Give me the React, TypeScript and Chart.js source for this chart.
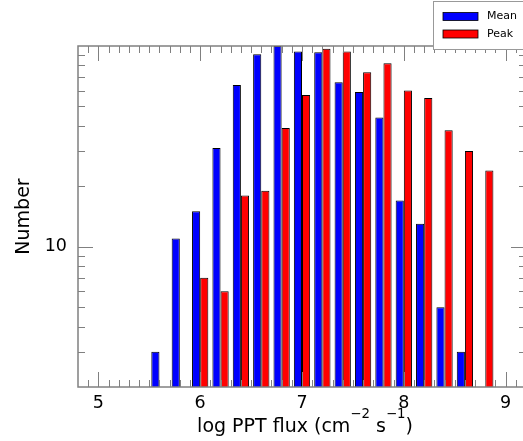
import { useEffect, useRef } from 'react';
import { Chart, registerables } from 'chart.js';

Chart.register(...registerables);

// Histogram bin centres (log PPT flux)
const binCenters = [5.6, 5.8, 6.0, 6.2, 6.4, 6.6, 6.8, 7.0, 7.2, 7.4, 7.6, 7.8, 8.0, 8.2, 8.4, 8.6, 8.8];
// Counts per bin
const meanCounts = [3, 11, 15, 31, 64, 91, 100, 94, 93, 66, 59, 44, 17, 13, 5, 3, null];
const peakCounts = [null, null, 7, 6, 18, 19, 39, 57, 97, 94, 74, 82, 60, 55, 38, 30, 24];
// Axis settings
const xMin = 4.8;
const xMax = 9.2;
const yMin = 2;
const yMax = 100;
const yLabelledTicks = [10];
const seriesLabels = ['Mean', 'Peak'];
const seriesColors = ['#0000ff', '#ff0000'];
// x-axis title pieces: [text, isSuperscript]
const xTitleParts: [string, boolean][] = [
  ['log PPT flux (cm', false],
  ['\u22122', true],
  [' s', false],
  ['\u22121', true],
  [')', false],
];
const yTitle = 'Number';

const FONT = "'DejaVu Sans', 'Bitstream Vera Sans', sans-serif";
const TITLE_SIZE = 19;
const TICK_SIZE = 17.5;

const frameTicks = {
  id: 'frameTicks',
  afterDatasetsDraw(chart: any) {
    const { ctx, chartArea: a, scales } = chart;
    const xs = scales.x;
    const ys = scales.y;
    ctx.save();
    ctx.strokeStyle = '#808080';
    ctx.lineWidth = 1;
    const line = (x1: number, y1: number, x2: number, y2: number) => {
      ctx.beginPath();
      ctx.moveTo(x1, y1);
      ctx.lineTo(x2, y2);
      ctx.stroke();
    };
    // x ticks every 0.1, major every 1 (inward, top and bottom)
    const nStart = Math.round(xMin * 10) + 1;
    const nEnd = Math.round(xMax * 10) - 1;
    for (let i = nStart; i <= nEnd; i++) {
      const px = Math.round(xs.getPixelForValue(i / 10)) + 0.5;
      const len = i % 10 === 0 ? 15 : 7;
      line(px, a.bottom, px, a.bottom - len);
      line(px, a.top, px, a.top + len);
    }
    // y log ticks (inward, left and right)
    for (let d = 1; d <= 100; d *= 10) {
      for (let m = 1; m <= 9; m++) {
        const v = m * d;
        if (v <= yMin || v >= yMax) continue;
        const py = Math.round(ys.getPixelForValue(v)) + 0.5;
        const len = m === 1 ? 15 : 7;
        line(a.left, py, a.left + len, py);
        line(a.right, py, a.right - len, py);
      }
    }
    ctx.lineWidth = 1.5;
    ctx.strokeRect(a.left, a.top, a.right - a.left, a.bottom - a.top);
    ctx.restore();
  },
};

const xTitle = {
  id: 'xTitle',
  afterDraw(chart: any) {
    const { ctx, chartArea: a } = chart;
    ctx.save();
    ctx.fillStyle = '#000';
    ctx.textBaseline = 'alphabetic';
    ctx.textAlign = 'left';
    const fontFor = (sup: boolean) => `${sup ? TITLE_SIZE * 0.7 : TITLE_SIZE}px ${FONT}`;
    let total = 0;
    const widths = xTitleParts.map(([t, sup]) => {
      ctx.font = fontFor(sup);
      const w = ctx.measureText(t).width;
      total += w;
      return w;
    });
    const cx = (a.left + a.right) / 2 + 3;
    let x = cx - total / 2;
    const baseY = 432;
    xTitleParts.forEach(([t, sup], i) => {
      ctx.font = fontFor(sup);
      ctx.fillText(t, x, sup ? baseY - 14.5 : baseY);
      x += widths[i];
    });
    ctx.restore();
  },
};

const boxLegend = {
  id: 'boxLegend',
  afterDraw(chart: any) {
    const { ctx } = chart;
    ctx.save();
    ctx.fillStyle = '#ffffff';
    ctx.strokeStyle = '#999999';
    ctx.lineWidth = 1;
    ctx.fillRect(433.5, 1.5, 100, 48);
    ctx.strokeRect(433.5, 1.5, 100, 48);
    ctx.font = `11px ${FONT}`;
    ctx.textBaseline = 'middle';
    chart.data.datasets.forEach((ds: any, i: number) => {
      const cy = 16.5 + i * 17.5;
      ctx.fillStyle = ds.backgroundColor;
      ctx.fillRect(443, cy - 4, 35, 8);
      ctx.strokeStyle = '#000';
      ctx.lineWidth = 0.8;
      ctx.strokeRect(443, cy - 4, 35, 8);
      ctx.fillStyle = '#000';
      ctx.fillText(ds.label, 487, cy);
    });
    ctx.restore();
  },
};

export default function App() {
  const ref = useRef<HTMLCanvasElement>(null);
  useEffect(() => {
    document.body.style.margin = '0';
    const canvas = ref.current;
    if (!canvas) return;
    const mk = (vals: (number | null)[]) => binCenters.map((x, i) => ({ x, y: vals[i] }));
    const chart = new Chart(canvas, {
      type: 'bar',
      data: {
        datasets: [
          {
            label: seriesLabels[0],
            data: mk(meanCounts) as any,
            backgroundColor: seriesColors[0],
            borderColor: '#000',
            borderWidth: 1,
            categoryPercentage: 0.8,
            barPercentage: 1,
          },
          {
            label: seriesLabels[1],
            data: mk(peakCounts) as any,
            backgroundColor: seriesColors[1],
            borderColor: '#000',
            borderWidth: 1,
            categoryPercentage: 0.8,
            barPercentage: 1,
          },
        ],
      },
      options: {
        responsive: false,
        animation: false,
        layout: { padding: { left: 0, top: 46, right: 0, bottom: 0 } },
        plugins: { legend: { display: false }, tooltip: { enabled: false } },
        scales: {
          x: {
            type: 'linear',
            min: xMin,
            max: xMax,
            offset: false,
            grid: { display: false, offset: false, drawTicks: false },
            border: { display: false },
            ticks: {
              stepSize: 1,
              includeBounds: false,
              padding: 6,
              color: '#000',
              font: { family: FONT, size: TICK_SIZE },
              callback: (v: any) => String(v),
            },
            title: { display: false },
            afterFit: (s: any) => {
              s.height = 54;
            },
          },
          y: {
            type: 'logarithmic',
            min: yMin,
            max: yMax,
            grid: { display: false, drawTicks: false },
            border: { display: false },
            ticks: {
              autoSkip: false,
              padding: 11,
              color: '#000',
              font: { family: FONT, size: TICK_SIZE },
              callback: (v: any) => (yLabelledTicks.includes(Number(v)) ? String(v) : ''),
            },
            title: {
              display: true,
              text: yTitle,
              color: '#000',
              font: { family: FONT, size: TITLE_SIZE },
              padding: { top: 13, bottom: 13 },
            },
            afterFit: (s: any) => {
              s.width = 78;
            },
          },
        },
      },
      plugins: [frameTicks, xTitle, boxLegend],
    });
    return () => chart.destroy();
  }, []);
  return (
    <div style={{ width: 523, height: 441, overflow: 'hidden' }}>
      <canvas ref={ref} width={526} height={441} style={{ display: 'block' }} />
    </div>
  );
}
